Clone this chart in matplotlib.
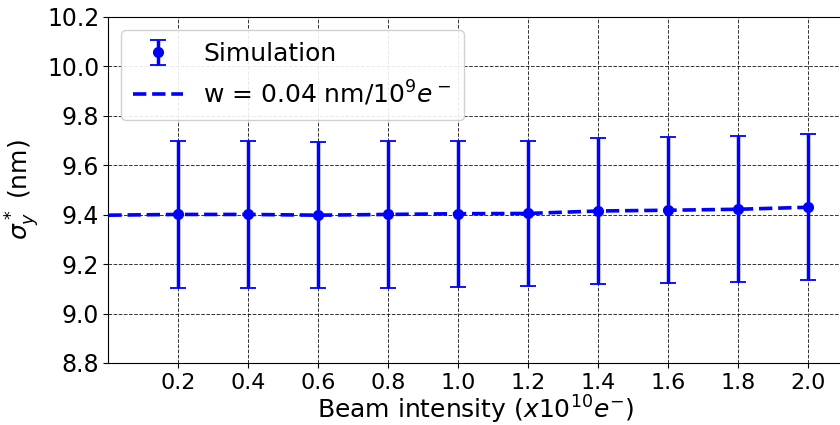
import numpy as np
import matplotlib
matplotlib.use('Agg')
import matplotlib.pyplot as plt

# beam intensity (x10^10 e-) and simulated vertical beam size
intensity = [0.2, 0.4, 0.6, 0.8, 1.0, 1.2, 1.4, 1.6, 1.8, 2.0]
sigma_y = [9.401, 9.401, 9.398, 9.401, 9.404, 9.405, 9.415, 9.418, 9.422, 9.430]
sigma_err = [0.297, 0.296, 0.296, 0.296, 0.295, 0.295, 0.296, 0.296, 0.295, 0.296]

# dashed trend line
fit_x = [0.0, 0.2, 0.4, 0.6, 0.8, 1.0, 1.2, 1.4, 1.6, 1.8, 2.0]
fit_y = [9.398, 9.401, 9.401, 9.398, 9.401, 9.404, 9.405, 9.415, 9.418, 9.422, 9.430]

xticks = [0.2, 0.4, 0.6, 0.8, 1.0, 1.2, 1.4, 1.6, 1.8, 2.0]
yticks = [8.8, 9.0, 9.2, 9.4, 9.6, 9.8, 10.0, 10.2]

fig = plt.figure(figsize=(8.4, 4.25), dpi=100)
ax = fig.add_axes([0.129, 0.146, 0.875, 0.814])

eb = ax.errorbar(intensity, sigma_y, yerr=sigma_err, fmt='o', color='blue',
                 ecolor='blue', elinewidth=2.5, capsize=6, capthick=1.3, ms=7,
                 label='Simulation', zorder=3)
ln, = ax.plot(fit_x, fit_y, '--', color='blue', lw=2.6,
              label=r'w = 0.04 nm/$10^9e^-$', zorder=4)

ax.set_xlim(0, 2.1)
ax.set_ylim(8.8, 10.2)
ax.set_xticks(xticks)
ax.set_yticks(yticks)
ax.set_xticklabels([f'{v:.1f}' for v in xticks])
ax.set_yticklabels([f'{v:.1f}' for v in yticks])
ax.tick_params(axis='x', labelsize=16, length=3.5, pad=4)
ax.tick_params(axis='y', labelsize=17, length=3.5, pad=3)
ax.grid(True, linestyle='--', color='black', linewidth=0.7, alpha=0.8)

ax.set_xlabel(r'Beam intensity ($x10^{10}e^{-}$)', fontsize=18, labelpad=0)
ax.set_ylabel(r'$\sigma^*_y$ (nm)', fontsize=18, labelpad=4)

ax.legend([eb, ln], ['Simulation', r'w = 0.04 nm/$10^9e^-$'],
          loc='upper left', fontsize=18, framealpha=0.9, borderpad=0.5)

fig.savefig('out.png', dpi=100)
